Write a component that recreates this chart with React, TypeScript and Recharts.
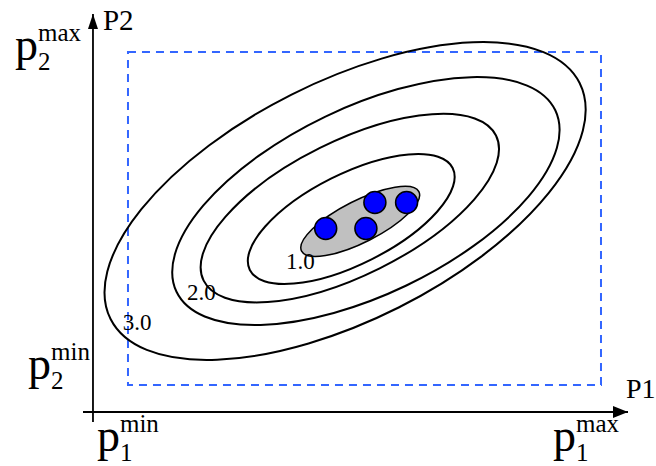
import React from 'react';
import { ScatterChart, Scatter, XAxis, YAxis, ReferenceArea, ReferenceLine } from 'recharts';

// likelihood contours (outer -> inner): centre, semi-axes, tilt in degrees
const CONTOUR_P1 = [4.59, 5.03, 4.69, 4.72];
const CONTOUR_P2 = [3.89, 3.89, 3.74, 3.51];
const CONTOUR_A = [5.55, 4.44, 3.45, 2.4];
const CONTOUR_B = [2.52, 1.98, 1.42, 0.955];
const CONTOUR_TILT = [26.7, 25.6, 26.4, 26.7];

// shaded confidence region
const REGION_P1 = [4.91];
const REGION_P2 = [3.46];
const REGION_A = [1.39];
const REGION_B = [0.442];
const REGION_TILT = [26.9];

// estimated parameter sets
const POINT_P1 = [4.18, 5.03, 5.22, 5.89];
const POINT_P2 = [3.31, 3.31, 3.86, 3.86];

// contour level labels
const LEVEL_TEXT = ['1.0', '2.0', '3.0'];
const LEVEL_P1 = [3.34, 1.25, -0.11];
const LEVEL_P2 = [2.45, 1.8, 1.16];

// bounds box and axes
const P1_TICKS = [0, 10];
const P2_TICKS = [0, 7.04];
const TICK_SUPS = ['min', 'max'];
const AXIS_NAMES = ['P1', 'P2'];
const ORIGIN_P1 = -0.74;
const ORIGIN_P2 = -0.571;

const W = 656;
const H = 466;
const MARGIN = { top: 14, right: 28, left: 0, bottom: 0 };
const Y_AXIS_W = 83;
const X_AXIS_H = 44;
const X_DOMAIN: [number, number] = [-0.951, 10.571];
const Y_DOMAIN: [number, number] = [-0.782, 7.844];
const PX = (W - MARGIN.right - Y_AXIS_W) / (X_DOMAIN[1] - X_DOMAIN[0]);

const FONT = "'Liberation Serif', 'Times New Roman', serif";
const txt = (size: number) => ({ fontFamily: FONT, fontSize: size });

const ellipses = (p1: number[], p2: number[], a: number[], b: number[], t: number[]) =>
  p1.map((x, i) => ({ x, y: p2[i], a: a[i], b: b[i], tilt: t[i] }));

const contourData = ellipses(CONTOUR_P1, CONTOUR_P2, CONTOUR_A, CONTOUR_B, CONTOUR_TILT);
const regionData = ellipses(REGION_P1, REGION_P2, REGION_A, REGION_B, REGION_TILT);
const pointData = POINT_P1.map((x, i) => ({ x, y: POINT_P2[i] }));
const levelData = LEVEL_TEXT.map((text, i) => ({ x: LEVEL_P1[i], y: LEVEL_P2[i], text }));

const ellipseShape = (fill: string, width: number) => (props: any) => {
  const { cx, cy, payload } = props;
  return (
    <ellipse
      cx={cx}
      cy={cy}
      rx={payload.a * PX}
      ry={payload.b * PX}
      transform={`rotate(${-payload.tilt} ${cx} ${cy})`}
      fill={fill}
      stroke="#000"
      strokeWidth={width}
    />
  );
};

const dotShape = (props: any) => (
  <circle cx={props.cx} cy={props.cy} r={11} fill="#0000ff" stroke="#000" strokeWidth={1.5} />
);

const levelShape = (props: any) => (
  <text x={props.cx} y={props.cy} style={txt(23)} fill="#000">
    {props.payload.text}
  </text>
);

function PLabel({ x, y, sub, sup }: { x: number; y: number; sub: string; sup: string }) {
  return (
    <g fill="#000">
      <text x={x} y={y} style={txt(46)}>p</text>
      <text x={x + 23} y={y - 19} style={txt(25)}>{sup}</text>
      <text x={x + 23} y={y + 10} style={txt(25)}>{sub}</text>
    </g>
  );
}

const p1Tick = (props: any) => {
  const isMin = props.payload.value === P1_TICKS[0];
  return <PLabel x={props.x + (isMin ? -31 : -48)} y={props.y + 29} sub="1" sup={TICK_SUPS[isMin ? 0 : 1]} />;
};

const p2Tick = (props: any) => {
  const isMin = props.payload.value === P2_TICKS[0];
  return (
    <PLabel
      x={props.x + (isMin ? -55 : -68)}
      y={props.y + (isMin ? -6 : 8)}
      sub="2"
      sup={TICK_SUPS[isMin ? 0 : 1]}
    />
  );
};

const axisShape = (name: string, vertical: boolean) => (props: any) => {
  const { x1, y1, x2, y2 } = props;
  const tx = vertical ? x1 : Math.max(x1, x2);
  const ty = vertical ? Math.min(y1, y2) : y1;
  const head = vertical
    ? `${tx},${ty} ${tx - 5},${ty + 15} ${tx + 5},${ty + 15}`
    : `${tx},${ty} ${tx - 15},${ty - 6} ${tx - 15},${ty + 6}`;
  return (
    <g>
      <line x1={x1} y1={y1} x2={x2} y2={y2} stroke="#000" strokeWidth={1.8} />
      <polygon points={head} fill="#000" />
      <text
        x={vertical ? tx + 10 : tx - 2}
        y={vertical ? ty + 16 : ty - 14}
        style={txt(vertical ? 29 : 28)}
        fill="#000"
      >
        {name}
      </text>
    </g>
  );
};

export default function App() {
  return (
    <div style={{ position: 'absolute', left: 0, top: 0, width: W, height: H, background: '#fff' }}>
      <ScatterChart width={W} height={H} margin={MARGIN}>
        <XAxis
          type="number"
          dataKey="x"
          domain={X_DOMAIN}
          ticks={P1_TICKS}
          interval={0}
          allowDataOverflow
          axisLine={false}
          tickLine={false}
          tickSize={0}
          tickMargin={0}
          height={X_AXIS_H}
          tick={p1Tick}
        />
        <YAxis
          type="number"
          dataKey="y"
          domain={Y_DOMAIN}
          ticks={P2_TICKS}
          interval={0}
          allowDataOverflow
          axisLine={false}
          tickLine={false}
          tickSize={0}
          tickMargin={0}
          width={Y_AXIS_W}
          tick={p2Tick}
        />
        <ReferenceArea
          x1={P1_TICKS[0]}
          x2={P1_TICKS[1]}
          y1={P2_TICKS[0]}
          y2={P2_TICKS[1]}
          fill="none"
          stroke="#3366ff"
          strokeWidth={2}
          strokeDasharray="8 6"
        />
        <ReferenceLine x={ORIGIN_P1} shape={axisShape(AXIS_NAMES[1], true)} />
        <ReferenceLine y={ORIGIN_P2} shape={axisShape(AXIS_NAMES[0], false)} />
        <Scatter data={contourData} shape={ellipseShape('none', 2)} isAnimationActive={false} />
        <Scatter data={regionData} shape={ellipseShape('#c0c0c0', 1.5)} isAnimationActive={false} />
        <Scatter data={pointData} shape={dotShape} isAnimationActive={false} />
        <Scatter data={levelData} shape={levelShape} isAnimationActive={false} />
      </ScatterChart>
    </div>
  );
}
